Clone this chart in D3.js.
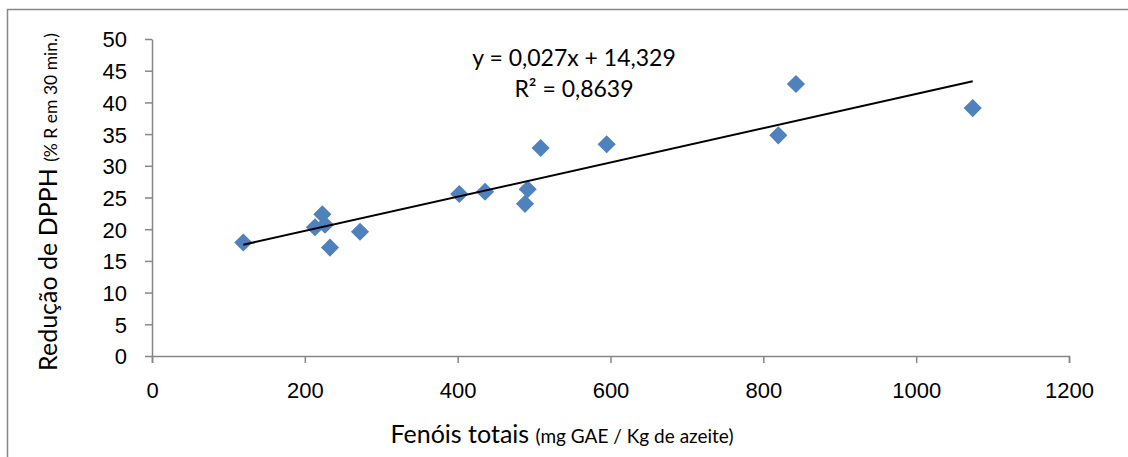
<!DOCTYPE html>
<html>
<head>
<meta charset="utf-8">
<script src="https://cdn.jsdelivr.net/npm/d3@7"></script>
<style>
  body { margin: 0; background: #fff; }
  svg { display: block; font-family: Lato, 'Open Sans', sans-serif; }
  .tick text { font-size: 22px; fill: #000; }
  .axis .domain, .axis .tick line { stroke: #868686; stroke-width: 1.5; }
</style>
</head>
<body>
<div id="chart"></div>
<script>
// data
const fenois = [119.5, 222.9, 213.3, 226.4, 232.9, 272.2, 402.1, 435.8, 491.6, 488.1, 508.6, 595, 842.7, 819.6, 1074];
const dpph = [17.9, 22.35, 20.3, 20.7, 17.1, 19.6, 25.55, 25.9, 26.3, 24.0, 32.8, 33.4, 42.9, 34.8, 39.1];
const xTicks = [0, 200, 400, 600, 800, 1000, 1200];
const yTicks = [0, 5, 10, 15, 20, 25, 30, 35, 40, 45, 50];
const trendSlope = 0.027;
const trendIntercept = 14.329;
const equationLines = ['y = 0,027x + 14,329', 'R² = 0,8639'];

// dimensions
const WIDTH = 1128;
const HEIGHT = 457;
const MARGIN_LEFT = 152;
const MARGIN_TOP = 39;
const PLOT_W = 1069 - 152;
const PLOT_H = 356 - 39;
const BLUE = '#4F81BD';

const points = fenois.map((x, i) => ({ x, y: dpph[i] }));

const $svg = d3.select('#chart').append('svg')
  .attr('width', WIDTH)
  .attr('height', HEIGHT);

// outer frame (runs off right and bottom edge)
$svg.append('rect')
  .attr('x', 7.5).attr('y', 9.5)
  .attr('width', WIDTH + 20).attr('height', HEIGHT + 20)
  .attr('fill', 'none')
  .attr('stroke', '#868686')
  .attr('stroke-width', 1.5);

const scaleX = d3.scaleLinear().domain([0, 1200]).range([0, PLOT_W]);
const scaleY = d3.scaleLinear().domain([0, 50]).range([PLOT_H, 0]);

const $vis = $svg.append('g')
  .attr('transform', `translate(${MARGIN_LEFT}, ${MARGIN_TOP})`);

// axes
$vis.append('g')
  .attr('class', 'axis axis-y')
  .call(d3.axisLeft(scaleY).tickValues(yTicks).tickSize(7).tickSizeOuter(0).tickPadding(18))
  .call((g) => g.selectAll('.tick text').attr('dy', '0.36em'));

$vis.append('g')
  .attr('class', 'axis axis-x')
  .attr('transform', `translate(0, ${PLOT_H})`)
  .call(d3.axisBottom(scaleX).tickValues(xTicks).tickFormat(d3.format('d'))
    .tickSize(7).tickSizeOuter(7).tickPadding(19));

// points
const diamond = d3.symbol().type(d3.symbolDiamond2).size(210);
$vis.selectAll('.pt')
  .data(points)
  .join('path')
  .attr('class', 'pt')
  .attr('d', diamond)
  .attr('transform', (d) => `translate(${scaleX(d.x)}, ${scaleY(d.y)})`)
  .attr('fill', BLUE);

// trend line over the range of x
const xExt = d3.extent(fenois);
const line = d3.line().x((d) => scaleX(d)).y((d) => scaleY(trendSlope * d + trendIntercept));
$vis.append('path')
  .datum(xExt)
  .attr('d', line)
  .attr('fill', 'none')
  .attr('stroke', '#000')
  .attr('stroke-width', 2);

// equation
$svg.append('text')
  .attr('x', 574).attr('y', 66)
  .attr('text-anchor', 'middle')
  .style('font-size', '23px')
  .selectAll('tspan')
  .data(equationLines)
  .join('tspan')
  .attr('x', 574)
  .attr('dy', (d, i) => (i === 0 ? 0 : 31))
  .text((d) => d);

// x axis title
const $xt = $svg.append('text')
  .attr('x', 562).attr('y', 443)
  .attr('text-anchor', 'middle');
$xt.append('tspan').style('font-size', '25px').text('Fenóis totais ');
$xt.append('tspan').style('font-size', '19px').text('(mg GAE / Kg de azeite)');

// y axis title
const $yt = $svg.append('text')
  .attr('transform', 'translate(57, 202) rotate(-90)')
  .attr('text-anchor', 'middle');
$yt.append('tspan').style('font-size', '25px').text('Redução de DPPH ');
$yt.append('tspan').style('font-size', '17.5px').text('(% R em 30 min.)');
</script>
</body>
</html>
